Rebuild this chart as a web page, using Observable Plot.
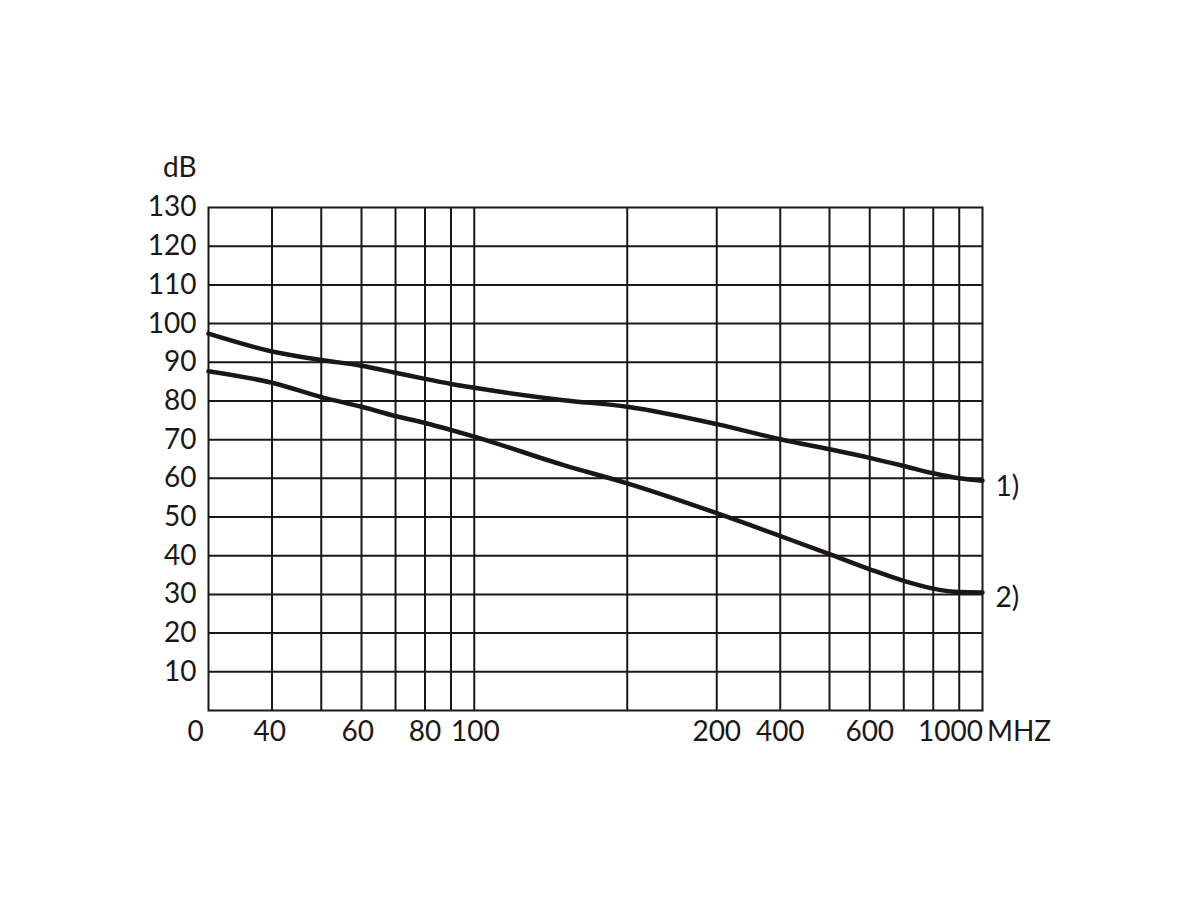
<!DOCTYPE html>
<html>
<head>
<meta charset="utf-8">
<script src="https://cdn.jsdelivr.net/npm/d3@7"></script>
<script src="https://cdn.jsdelivr.net/npm/@observablehq/plot@0.6"></script>
<style>
  html, body { margin: 0; padding: 0; background: #ffffff; }
  #chart svg { display: block; }
</style>
</head>
<body>
<div id="chart"></div>
<script>
// Frequencies (MHz) at which the curves were read
const freqs = [30, 40, 50, 60, 70, 80, 90, 100, 150, 200, 300, 400, 500, 600, 700, 800, 900, 1000];
// Curve 1) attenuation in dB
const curve1 = [97.4, 92.8, 90.6, 89.1, 87.3, 85.7, 84.4, 83.4, 80.2, 78.5, 74.0, 70.1, 67.5, 65.3, 63.2, 61.3, 60.0, 59.4];
// Curve 2) attenuation in dB
const curve2 = [87.7, 84.7, 81.0, 78.5, 76.1, 74.3, 72.5, 70.8, 63.4, 58.7, 51.0, 45.1, 40.4, 36.5, 33.5, 31.5, 30.6, 30.5];
const seriesNames = ["1)", "2)"];

// Grid lines
const xGrid = [40, 50, 60, 70, 80, 90, 100, 200, 300, 400, 500, 600, 700, 800, 900];
const yGrid = [10, 20, 30, 40, 50, 60, 70, 80, 90, 100, 110, 120];
// Tick labels as printed on the original, and the frequency where each is printed
const yTickLabels = [10, 20, 30, 40, 50, 60, 70, 80, 90, 100, 110, 120, 130];
const xTickLabels = ["0", "40", "60", "80", "100", "200", "400", "600", "1000", "MHZ"];
const xTickAt = [28.3, 39.6, 59, 80, 100.5, 300, 400, 600, 865, 1180];

const xDomain = [30, 1000];
const yDomain = [0, 130];

const rows = [];
freqs.forEach((f, i) => {
  rows.push({series: seriesNames[0], f, db: curve1[i]});
  rows.push({series: seriesNames[1], f, db: curve2[i]});
});
const ends = seriesNames.map(s => rows.filter(r => r.series === s).at(-1));

const ink = "#1b1718";
const font = "Lato, 'Liberation Sans', sans-serif";

const chart = Plot.plot({
  width: 1200,
  height: 900,
  marginLeft: 208,
  marginRight: 218,
  marginTop: 207,
  marginBottom: 190,
  style: {fontFamily: font, background: "#ffffff", color: ink},
  x: {type: "log", domain: xDomain, axis: null},
  y: {type: "linear", domain: yDomain, axis: null},
  marks: [
    Plot.ruleX(xGrid, {stroke: ink, strokeWidth: 2}),
    Plot.ruleY(yGrid, {stroke: ink, strokeWidth: 2}),
    Plot.frame({stroke: ink, strokeWidth: 2}),
    Plot.line(rows, {x: "f", y: "db", z: "series", stroke: ink, strokeWidth: 4.5, curve: "monotone-x"}),
    Plot.text(ends, {x: "f", y: "db", text: "series", textAnchor: "start", dx: 13, dy: 6, fontSize: 28, fill: ink}),
    Plot.text(yTickLabels, {x: xDomain[0], y: d => d, text: d => String(d), textAnchor: "end", dx: -12, fontSize: 28, fill: ink}),
    Plot.text(["dB"], {x: xDomain[0], y: 140.3, text: d => d, textAnchor: "end", dx: -12, fontSize: 28, fill: ink}),
    Plot.text(xTickLabels, {x: (d, i) => xTickAt[i], y: yDomain[0], text: d => d, dy: 22, fontSize: 28, fill: ink})
  ]
});
document.getElementById("chart").appendChild(chart);
</script>
</body>
</html>
